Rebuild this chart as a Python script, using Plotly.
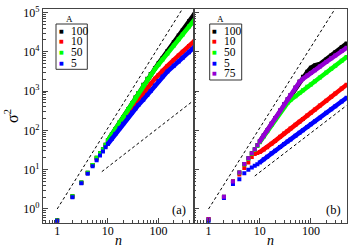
import plotly.graph_objects as go

# ---------------- data ----------------
n = [1, 2, 3, 4, 5, 6, 7, 8, 9, 10, 12, 14, 17, 20, 25, 30, 35, 40, 50, 60,
     70, 85, 100, 120, 150, 200, 250, 300, 400, 500]

# panel (a)
a_names = ["100", "10", "50", "5"]
a_A100 = [0.52, 2.1, 4.7, 8.3, 13.2, 20, 26, 33, 43, 55, 79, 107, 159, 219, 345, 495,
          690, 900, 1440, 2060, 2720, 3800, 5100, 7000, 10500, 17400, 25800, 35500, 60000, 89000]
a_A10 = [0.5, 2.05, 4.6, 8.2, 13, 19, 25, 31, 39, 49, 68, 90, 126, 170, 255, 355,
         470, 590, 850, 1180, 1530, 2050, 2580, 3300, 4370, 6200, 8000, 10000, 14100, 18300]
a_A50 = [0.52, 2.1, 4.7, 8.3, 13.2, 20, 26, 33, 43, 55, 79, 107, 159, 219, 345, 495,
         675, 880, 1400, 2000, 2650, 3650, 4750, 6370, 9100, 14500, 20800, 27700, 44000, 62500]
a_A5 = [0.5, 2.0, 4.5, 7.9, 12.3, 17.5, 23, 29, 37, 45, 61, 81, 113, 148, 215, 285,
        360, 440, 600, 790, 1000, 1380, 1800, 2350, 3150, 4400, 5700, 7100, 9800, 12900]

# panel (b)
b_names = ["100", "10", "50", "5", "75"]
b_A100 = [0.55, 2.05, 5.0, 8.5, 14, 19.6, 26, 33, 42, 52, 74, 100, 148, 205, 320, 460,
          620, 800, 1230, 1750, 2300, 3100, 3900, 4500, 4900, 6400, 8000, 9700, 13000, 16200]
b_A10 = [0.55, 2.0, 5.0, 7.5, 11, 15.2, 21, 25, 26.5, 28, 32.5, 37, 46, 54, 69, 83,
         97, 111, 139, 167, 196, 239, 282, 340, 427, 571, 718, 865, 1160, 1455]
b_A50 = [0.52, 2.0, 4.8, 8.3, 13.5, 19, 25.5, 32, 40, 50, 70, 95, 138, 190, 290, 400,
         500, 590, 740, 890, 1050, 1280, 1480, 1780, 2220, 2960, 3700, 4440, 5900, 7400]
b_A5 = [0.5, 1.9, 4.3, 5.7, 8.1, 9.9, 11.3, 12.5, 13.8, 15.2, 18.4, 21.4, 26, 30.5, 37.6, 44.7,
        52, 59, 73, 87, 101, 122, 143, 170, 210, 279, 345, 412, 543, 676]
b_A75 = [0.55, 2.05, 5.0, 8.5, 14, 19.6, 26, 33, 42, 52, 74, 100, 148, 205, 320, 460,
         615, 790, 1200, 1700, 2050, 2500, 2900, 3400, 4200, 5500, 6800, 8100, 10400, 12600]

# guide lines (dashed)
a_steep_n = [1, 500]
a_steep_y = [1.0, 363000]
a_lin_n = [7.6, 500]
a_lin_y = [8.9, 585]
b_steep_n = [1, 500]
b_steep_y = [1.0, 363000]
b_lin_n = [8, 500]
b_lin_y = [6.9, 430]

x_tickvals = [1, 10, 100]
x_ticktext = ["1", "10", "100"]
y_tickvals = [1, 10, 100, 1000, 10000, 100000]
y_ticktext = ["10<sup>0</sup>", "10<sup>1</sup>", "10<sup>2</sup>", "10<sup>3</sup>",
              "10<sup>4</sup>", "10<sup>5</sup>"]

colors = {"100": "#000000", "10": "#ff0000", "50": "#00ff00", "5": "#0000ff", "75": "#9400d3"}

# ---------------- figure ----------------
W, H = 349, 247
ML, MR, MT, MB = 43, 2, 9, 24
PW, PH = W - ML - MR, H - MT - MB
FONT = "Liberation Serif, Times New Roman, serif"


def px(X):
    return (X - ML) / PW


def py(Y):
    return 1 - (Y - MT) / PH


fig = go.Figure()

START = n.index(10)


def add_series(name, ys, xa, ya):
    c = colors[name]
    fig.add_trace(go.Scatter(x=n[START:], y=ys[START:], mode="lines",
                             line=dict(color=c, width=4.5), xaxis=xa, yaxis=ya,
                             showlegend=False, hoverinfo="skip"))
    fig.add_trace(go.Scatter(x=n, y=ys, mode="markers",
                             marker=dict(symbol="square", size=4, color=c, line=dict(width=0)),
                             xaxis=xa, yaxis=ya, showlegend=False, name=name))


def add_guide(xs, ys, xa, ya):
    fig.add_trace(go.Scatter(x=xs, y=ys, mode="lines",
                             line=dict(color="black", width=1, dash="3px,2.5px"),
                             xaxis=xa, yaxis=ya, showlegend=False, hoverinfo="skip"))


add_guide(a_steep_n, a_steep_y, "x", "y")
add_guide(a_lin_n, a_lin_y, "x", "y")
add_guide(b_steep_n, b_steep_y, "x2", "y2")
add_guide(b_lin_n, b_lin_y, "x2", "y2")

for nm, ys in zip(a_names, [a_A100, a_A10, a_A50, a_A5]):
    add_series(nm, ys, "x", "y")
for nm, ys in zip(b_names, [b_A100, b_A10, b_A50, b_A5, b_A75]):
    add_series(nm, ys, "x2", "y2")

AX = "#444444"
common_x = dict(type="log", tickvals=x_tickvals, ticktext=x_ticktext, ticks="inside",
                ticklen=5, tickwidth=1, tickcolor=AX, showline=True, linecolor=AX,
                linewidth=1.3, mirror=True, showgrid=False, zeroline=False,
                ticklabelstandoff=-4,
                minor=dict(ticks="inside", ticklen=2.5, tickwidth=1, tickcolor=AX,
                           dtick="D1", showgrid=False),
                tickfont=dict(family=FONT, size=12, color="black"))
common_y = dict(type="log", range=[-0.357, 5.089], tickvals=y_tickvals, ticktext=y_ticktext,
                ticks="inside", ticklen=5, tickwidth=1, tickcolor=AX, showline=True,
                linecolor=AX, linewidth=1.3, mirror=True, showgrid=False, zeroline=False,
                minor=dict(ticks="inside", ticklen=2.5, tickwidth=1, tickcolor=AX,
                           dtick="D1", showgrid=False),
                tickfont=dict(family=FONT, size=12, color="black"))

split = 150.5 / PW
fig.update_layout(
    width=W, height=H, autosize=False,
    margin=dict(l=ML, r=MR, t=MT, b=MB, pad=0),
    paper_bgcolor="white", plot_bgcolor="white",
    xaxis=dict(common_x, domain=[0, split], range=[-0.28, 2.69], anchor="y"),
    xaxis2=dict(common_x, domain=[split, 1], range=[-0.294, 2.706], anchor="y2"),
    yaxis=dict(common_y, domain=[0, 1], anchor="x"),
    yaxis2=dict(common_y, domain=[0, 1], anchor="x2", showticklabels=False),
    showlegend=False,
)

ann = []
shapes = []


def legend(names, box, title_x):
    x0, y0, x1, y1 = box
    shapes.append(dict(type="rect", xref="paper", yref="paper", x0=px(x0), x1=px(x1),
                       y0=py(y0), y1=py(y1), line=dict(color="#333333", width=1)))
    ann.append(dict(text="A", x=px(title_x), y=py(19), xref="paper", yref="paper",
                    showarrow=False, xanchor="center", yanchor="middle",
                    font=dict(family=FONT, size=9, color="black")))
    for i, nm in enumerate(names):
        yy = 31 + 10.5 * i
        ann.append(dict(text="■", x=px(x0 + 5), y=py(yy), xref="paper", yref="paper",
                        showarrow=False, xanchor="center", yanchor="middle",
                        font=dict(family="DejaVu Sans", size=5, color=colors[nm])))
        ann.append(dict(text=nm, x=px(x0 + 12.5), y=py(yy), xref="paper", yref="paper",
                        showarrow=False, xanchor="left", yanchor="middle",
                        font=dict(family=FONT, size=11.5, color="black")))


legend(a_names, (56, 24, 87.3, 69.3), 69.3)
legend(b_names, (209.7, 24, 241.7, 80), 220.7)

ann.append(dict(text="(a)", x=px(178.5), y=py(210), xref="paper", yref="paper",
                showarrow=False, xanchor="center", yanchor="middle",
                font=dict(family=FONT, size=12.5, color="black")))
ann.append(dict(text="(b)", x=px(333.7), y=py(210), xref="paper", yref="paper",
                showarrow=False, xanchor="center", yanchor="middle",
                font=dict(family=FONT, size=12.5, color="black")))
ann.append(dict(text="<i>n</i>", x=px(118), y=py(240.5), xref="paper", yref="paper",
                showarrow=False, xanchor="center", yanchor="middle",
                font=dict(family=FONT, size=14, color="black")))
ann.append(dict(text="<i>n</i>", x=px(270.5), y=py(240.5), xref="paper", yref="paper",
                showarrow=False, xanchor="center", yanchor="middle",
                font=dict(family=FONT, size=14, color="black")))
ann.append(dict(text="σ<sup>2</sup>", x=px(11), y=py(116), xref="paper", yref="paper",
                showarrow=False, xanchor="center", yanchor="middle", textangle=-90,
                font=dict(family=FONT, size=16, color="black")))

fig.update_layout(annotations=ann, shapes=shapes)

fig.write_html("out.html", config={"displayModeBar": False},
               post_script="document.body.style.margin='0';document.body.style.overflow='hidden';")
